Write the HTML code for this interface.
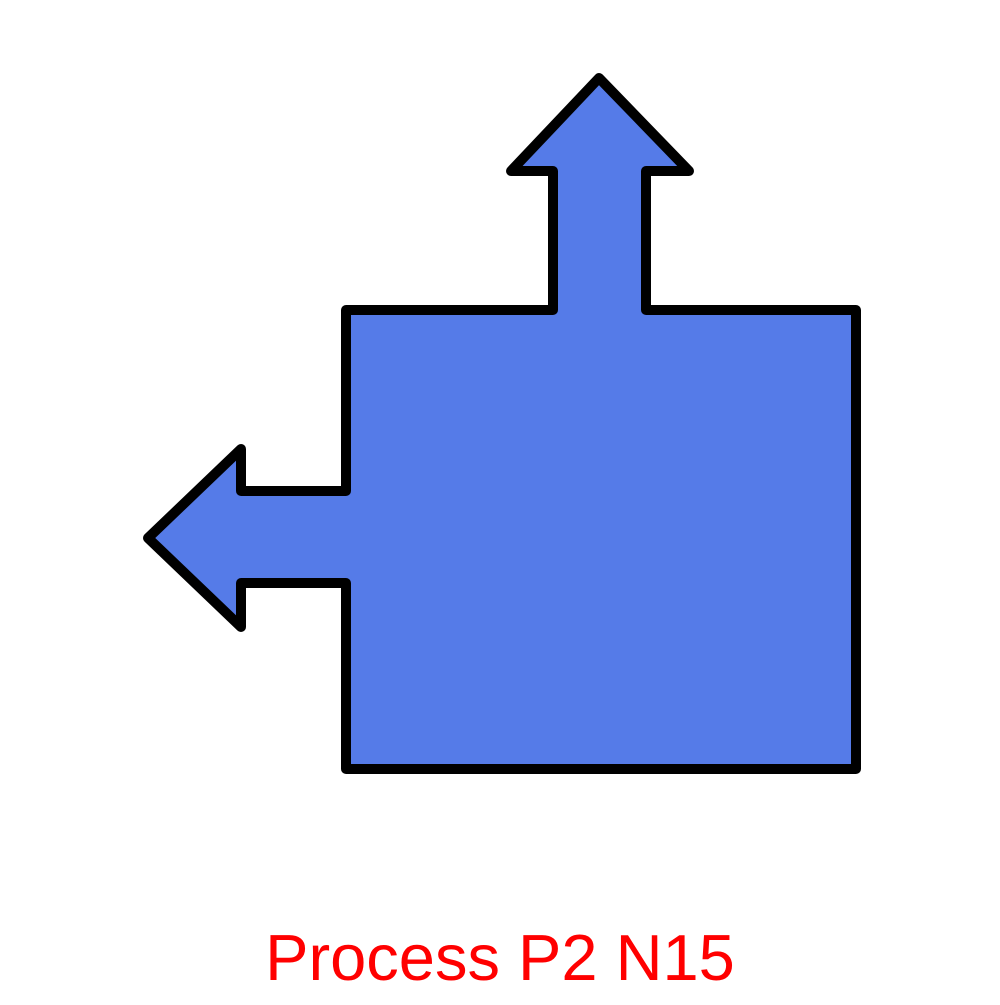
<!DOCTYPE html>
<html><head><style>html,body{margin:0;padding:0;background:#fff;}</style></head>
<body>
<svg width="1000" height="1000" viewBox="0 0 1000 1000" xmlns="http://www.w3.org/2000/svg">
<polygon points="346,310 553,310 553,171 511,171 599,78 689,171 646,171 646,310 856,310 856,769 346,769 346,583 241,583 241,627 148,538 241,449 241,491 346,491" fill="#557be8" stroke="#000" stroke-width="10" stroke-linejoin="round"/>
<text x="500" y="980" text-anchor="middle" font-family="Liberation Sans, sans-serif" font-size="65" fill="#ff0000">Process P2 N15</text>
</svg>
</body></html>
